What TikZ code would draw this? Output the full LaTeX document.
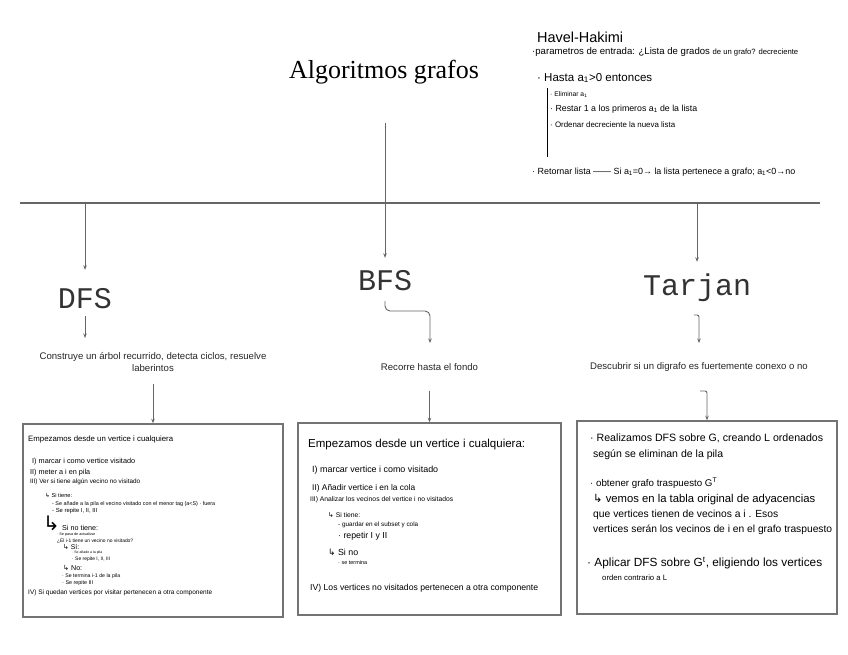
\documentclass[tikz,border=0pt]{standalone}
\usepackage{fontspec}
\usepackage{graphicx}
\setmainfont{Liberation Serif}
\newfontfamily\monof{Liberation Mono}
\newfontfamily\sansf{Liberation Sans}
\newfontfamily\handf{Liberation Sans}
\newfontfamily\symf{DejaVu Sans}
\usetikzlibrary{arrows.meta}
\newcommand\hw[2]{\resizebox{#1pt}{!}{\handf #2}}
\newcommand\hk{{\symf ↳}}
\newcommand\sbs[1]{\textsubscript{#1}}
\begin{document}
\begin{tikzpicture}[x=1pt,y=-1pt,
  line/.style={draw=black!60, line width=0.9pt},
  arr/.style={line, -{Stealth[length=4.5pt,width=3.5pt]}},
  mono/.style={font=\monof\fontsize{30}{30}\selectfont, text=black!80, inner sep=0pt, text height=20pt, text depth=0pt, anchor=base},
  desc/.style={font=\sansf\fontsize{9.6}{12}\selectfont, text=black!85, align=center, inner sep=0pt},
  box/.style={draw=black!55, line width=1.5pt, inner sep=0pt},
  hand/.style={anchor=west, inner sep=0pt, text=black}]
\useasboundingbox (0,0) rectangle (848,655);
\fill[white] (0,0) rectangle (848,655);

% title and main axis
\node[font=\fontsize{26}{30}\selectfont, inner sep=0pt] (title) at (384,72) {Algoritmos grafos};
\coordinate (ts) at (385,123);
\coordinate (hl) at (20,203);
\coordinate (hr) at (820,203);
\coordinate (jD) at (85,203);
\coordinate (jT) at (697,203);
\draw[line, line width=1.2pt] (hl) -- (hr);

% algorithm names
\node[mono] (DFS) at (85,308) {DFS};
\node[mono] (BFS) at (385,290) {BFS};
\node[mono] (TAR) at (697,295) {Tarjan};

\draw[arr, shorten >=12pt] (ts) -- (BFS.north);
\draw[arr, shorten >=18pt] (jD) -- (DFS.north);
\draw[arr, shorten >=13pt] (jT) -- (TAR.north);

% descriptions
\node[desc] (Ddesc) at (153,362) {Construye un árbol recurrido, detecta ciclos, resuelve\\laberintos};
\node[desc] (Bdesc) at (429.5,367) {Recorre hasta el fondo};
\node[desc] (Tdesc) at (699,367) {Descubrir si un digrafo es fuertemente conexo o no};

\coordinate (dfsEnd) at (85,338);
\draw[arr, shorten <=8pt] (DFS.south) -- (dfsEnd);
\coordinate (bfsMid) at (430,311);
\coordinate (bfsEnd) at (430,343);
\draw[arr, rounded corners=5pt, shorten <=11pt] (BFS.south) |- (bfsMid) -- (bfsEnd);
\coordinate (tarA) at (694,315);
\coordinate (tarEnd) at (699,343);
\draw[arr, rounded corners=2pt] (tarA) -| (tarEnd);

% boxes
\node[box, minimum width=260pt, minimum height=193pt] (Dbox) at (153,520.5) {};
\node[box, minimum width=263pt, minimum height=192pt] (Bbox) at (429.5,519) {};
\node[box, minimum width=260pt, minimum height=193pt] (Tbox) at (707,517.5) {};

\draw[arr, shorten <=12pt] (Ddesc.south) -- (Dbox.north);
\draw[arr, shorten <=20pt] (Bdesc.south) -- (Bbox.north);
\coordinate (tarB) at (700,391);
\draw[arr, rounded corners=2pt] (tarB) -| (Tbox.north);

% Havel-Hakimi notes
\node[hand] (h0) at (537,37) {\hw{86}{Havel-Hakimi}};
\node[hand] (h1) at (532,52) {\hw{266}{·parametros de entrada: ¿Lista de grados {\footnotesize de un grafo? decreciente}}};
\node[hand] (h2) at (537,78) {\hw{115}{· Hasta a\sbs{1}>0 entonces}};
\coordinate (barT) at (547,88);
\coordinate (barB) at (547,157);
\draw[black, line width=1pt] (barT) -- (barB);
\node[hand] (h3) at (550,95) {\hw{37}{· Eliminar a\sbs{1}}};
\node[hand] (h4) at (550,109) {\hw{147}{· Restar 1 a los primeros a\sbs{1} de la lista}};
\node[hand] (h5) at (550,125) {\hw{125}{· Ordenar decreciente la nueva lista}};
\node[hand] (h6) at (532,172) {\hw{263}{· Retornar lista —— Si a\sbs{1}=0→ la lista pertenece a grafo; a\sbs{1}<0→no}};

% DFS box text
\node[hand] (d0) at (28,439) {\hw{145}{Empezamos desde un vertice i cualquiera}};
\node[hand] (d1) at (32,462) {\hw{103}{I) marcar i como vertice visitado}};
\node[hand] (d2) at (30,473) {\hw{60}{II) meter a i en pila}};
\node[hand] (d3) at (30,482) {\hw{110}{III) Ver si tiene algún vecino no visitado}};
\node[hand] (d4) at (45,495) {\hw{27}{\hk{} Si tiene:}};
\node[hand] (d5) at (52,504) {\hw{163}{- Se añade a la pila el vecino visitado con el menor tag (a<S) · fuera}};
\node[hand] (d6) at (52,511) {\hw{45}{- Se repite I, II, III}};
\node[hand, font=\symf\fontsize{20}{20}\selectfont] (d7a) at (43,523) {↳};
\node[hand] (d7) at (62,528) {\hw{36}{Si no tiene:}};
\node[hand] (d8) at (57,535) {\hw{38}{· Se pasa de actualizar}};
\node[hand] (d9) at (57,541) {\hw{76}{¿El i-1 tiene un vecino no visitado?}};
\node[hand] (d10) at (63,547) {\hw{16}{\hk{} Sí:}};
\node[hand] (d11) at (72,553) {\hw{30}{· Se añade a la pila}};
\node[hand] (d12) at (72,559) {\hw{38}{· Se repite I, II, III}};
\node[hand] (d13) at (63,568) {\hw{19}{\hk{} No:}};
\node[hand] (d14) at (62,576) {\hw{58}{· Se termina i-1 de la pila}};
\node[hand] (d15) at (62,583) {\hw{31}{· Se repite III}};
\node[hand] (d16) at (28,593) {\hw{184}{IV) Si quedan vertices por visitar pertenecen a otra componente}};

% BFS box text
\node[hand] (b0) at (308,445) {\hw{217}{Empezamos desde un vertice i cualquiera:}};
\node[hand] (b1) at (312,470) {\hw{126}{I) marcar vertice i como visitado}};
\node[hand] (b2) at (312,488) {\hw{103}{II) Añadir vertice i en la cola}};
\node[hand] (b3) at (310,500) {\hw{143}{III) Analizar los vecinos del vertice i no visitados}};
\node[hand] (b4) at (328,515) {\hw{32}{\hk{} Si tiene:}};
\node[hand] (b5) at (338,525) {\hw{80}{- guardar en el subset y cola}};
\node[hand] (b6) at (338,536) {\hw{49}{· repetir I y II}};
\node[hand] (b7) at (328,552) {\hw{30}{\hk{} Si no}};
\node[hand] (b8) at (338,563) {\hw{29}{· se termina}};
\node[hand] (b9) at (310,588) {\hw{228}{IV) Los vertices no visitados pertenecen a otra componente}};

% Tarjan box text
\node[hand] (t0) at (590,438) {\hw{233}{· Realizamos DFS sobre G, creando L ordenados}};
\node[hand] (t1) at (593,455) {\hw{130}{según se eliminan de la pila}};
\node[hand] (t2) at (590,483) {\hw{127}{· obtener grafo traspuesto G\textsuperscript{T}}};
\node[hand] (t3) at (593,500) {\hw{222}{\hk{} vemos en la tabla original de adyacencias}};
\node[hand] (t4) at (593,515) {\hw{185}{que vertices tienen de vecinos a i . Esos}};
\node[hand] (t5) at (593,530) {\hw{239}{vertices serán los vecinos de i en el grafo traspuesto}};
\node[hand] (t6) at (587,563) {\hw{235}{· Aplicar DFS sobre G\textsuperscript{t}, eligiendo los vertices}};
\node[hand] (t7) at (602,578) {\hw{65}{orden contrario a L}};
\end{tikzpicture}
\end{document}
